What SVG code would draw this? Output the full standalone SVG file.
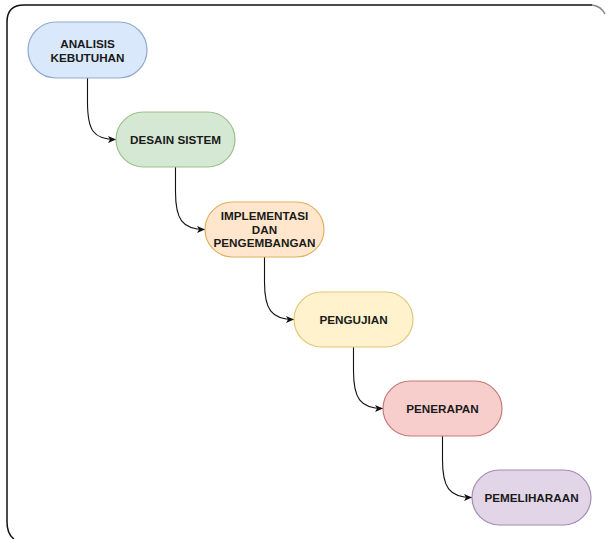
<svg xmlns="http://www.w3.org/2000/svg" width="606" height="539" viewBox="0 0 606 539">
<style>
.frame{fill:none;stroke:#111;stroke-width:1.5}
.node{stroke-width:1.2}
.lbl{font-family:"Liberation Sans",Arial,sans-serif;font-weight:bold;font-size:11.7px;fill:#1a1a1a;text-anchor:middle;dominant-baseline:central}
.edge{fill:none;stroke:#111;stroke-width:1.1}
</style>
<defs>
<marker id="arr" viewBox="0 0 8 7" refX="8" refY="3.5" markerWidth="8" markerHeight="7" markerUnits="userSpaceOnUse" orient="auto">
<path d="M0,0 L8,3.5 L0,7 L2,3.5 z" fill="#111"/>
</marker>
</defs>
<rect width="606" height="539" fill="#fff"/>
<path class="frame" d="M14 539 Q7 534 7 522 L7 22 Q7 5 24 5 L592 5"/>
<path d="M592 5 Q601 6 605 14" fill="none" stroke="#888" stroke-width="1.5"/>
<g id="edges">
<path class="edge" marker-end="url(#arr)" d="M87.5 78 L87.5 102 C87.5 130 93 139.5 116 139.5"/>
<path class="edge" marker-end="url(#arr)" d="M175.5 167 L175.5 192 C175.5 219 182 229.5 205 229.5"/>
<path class="edge" marker-end="url(#arr)" d="M264.5 257 L264.5 282 C264.5 309 271 319.5 294 319.5"/>
<path class="edge" marker-end="url(#arr)" d="M353.5 347 L353.5 371 C353.5 398 360 408.5 383 408.5"/>
<path class="edge" marker-end="url(#arr)" d="M442.5 436 L442.5 460 C442.5 487 449 497.5 472 497.5"/>
</g>
<g id="n1">
<rect class="node" x="28" y="22" width="119" height="56" rx="28" fill="#dae8fc" stroke="#8fa9cf"/>
<text class="lbl" x="87.5" y="43">ANALISIS</text>
<text class="lbl" x="87.5" y="57.5">KEBUTUHAN</text>
</g>
<g id="n2">
<rect class="node" x="116" y="112" width="119" height="55" rx="27.5" fill="#d5e8d4" stroke="#9cc08a"/>
<text class="lbl" x="175.5" y="139.5">DESAIN SISTEM</text>
</g>
<g id="n3">
<rect class="node" x="205" y="202" width="119" height="55" rx="27.5" fill="#ffe6cc" stroke="#e0b060"/>
<text class="lbl" x="264.5" y="215.5">IMPLEMENTASI</text>
<text class="lbl" x="264.5" y="229">DAN</text>
<text class="lbl" x="264.5" y="242.5">PENGEMBANGAN</text>
</g>
<g id="n4">
<rect class="node" x="294" y="292" width="119" height="55" rx="27.5" fill="#fff2cc" stroke="#e0c878"/>
<text class="lbl" x="353.5" y="319">PENGUJIAN</text>
</g>
<g id="n5">
<rect class="node" x="383" y="381" width="119" height="55" rx="27.5" fill="#f8cecc" stroke="#c47a77"/>
<text class="lbl" x="442.5" y="408">PENERAPAN</text>
</g>
<g id="n6">
<rect class="node" x="472" y="470" width="119" height="55" rx="27.5" fill="#e1d5e7" stroke="#a58bb3"/>
<text class="lbl" x="531.5" y="497.5">PEMELIHARAAN</text>
</g>
</svg>
